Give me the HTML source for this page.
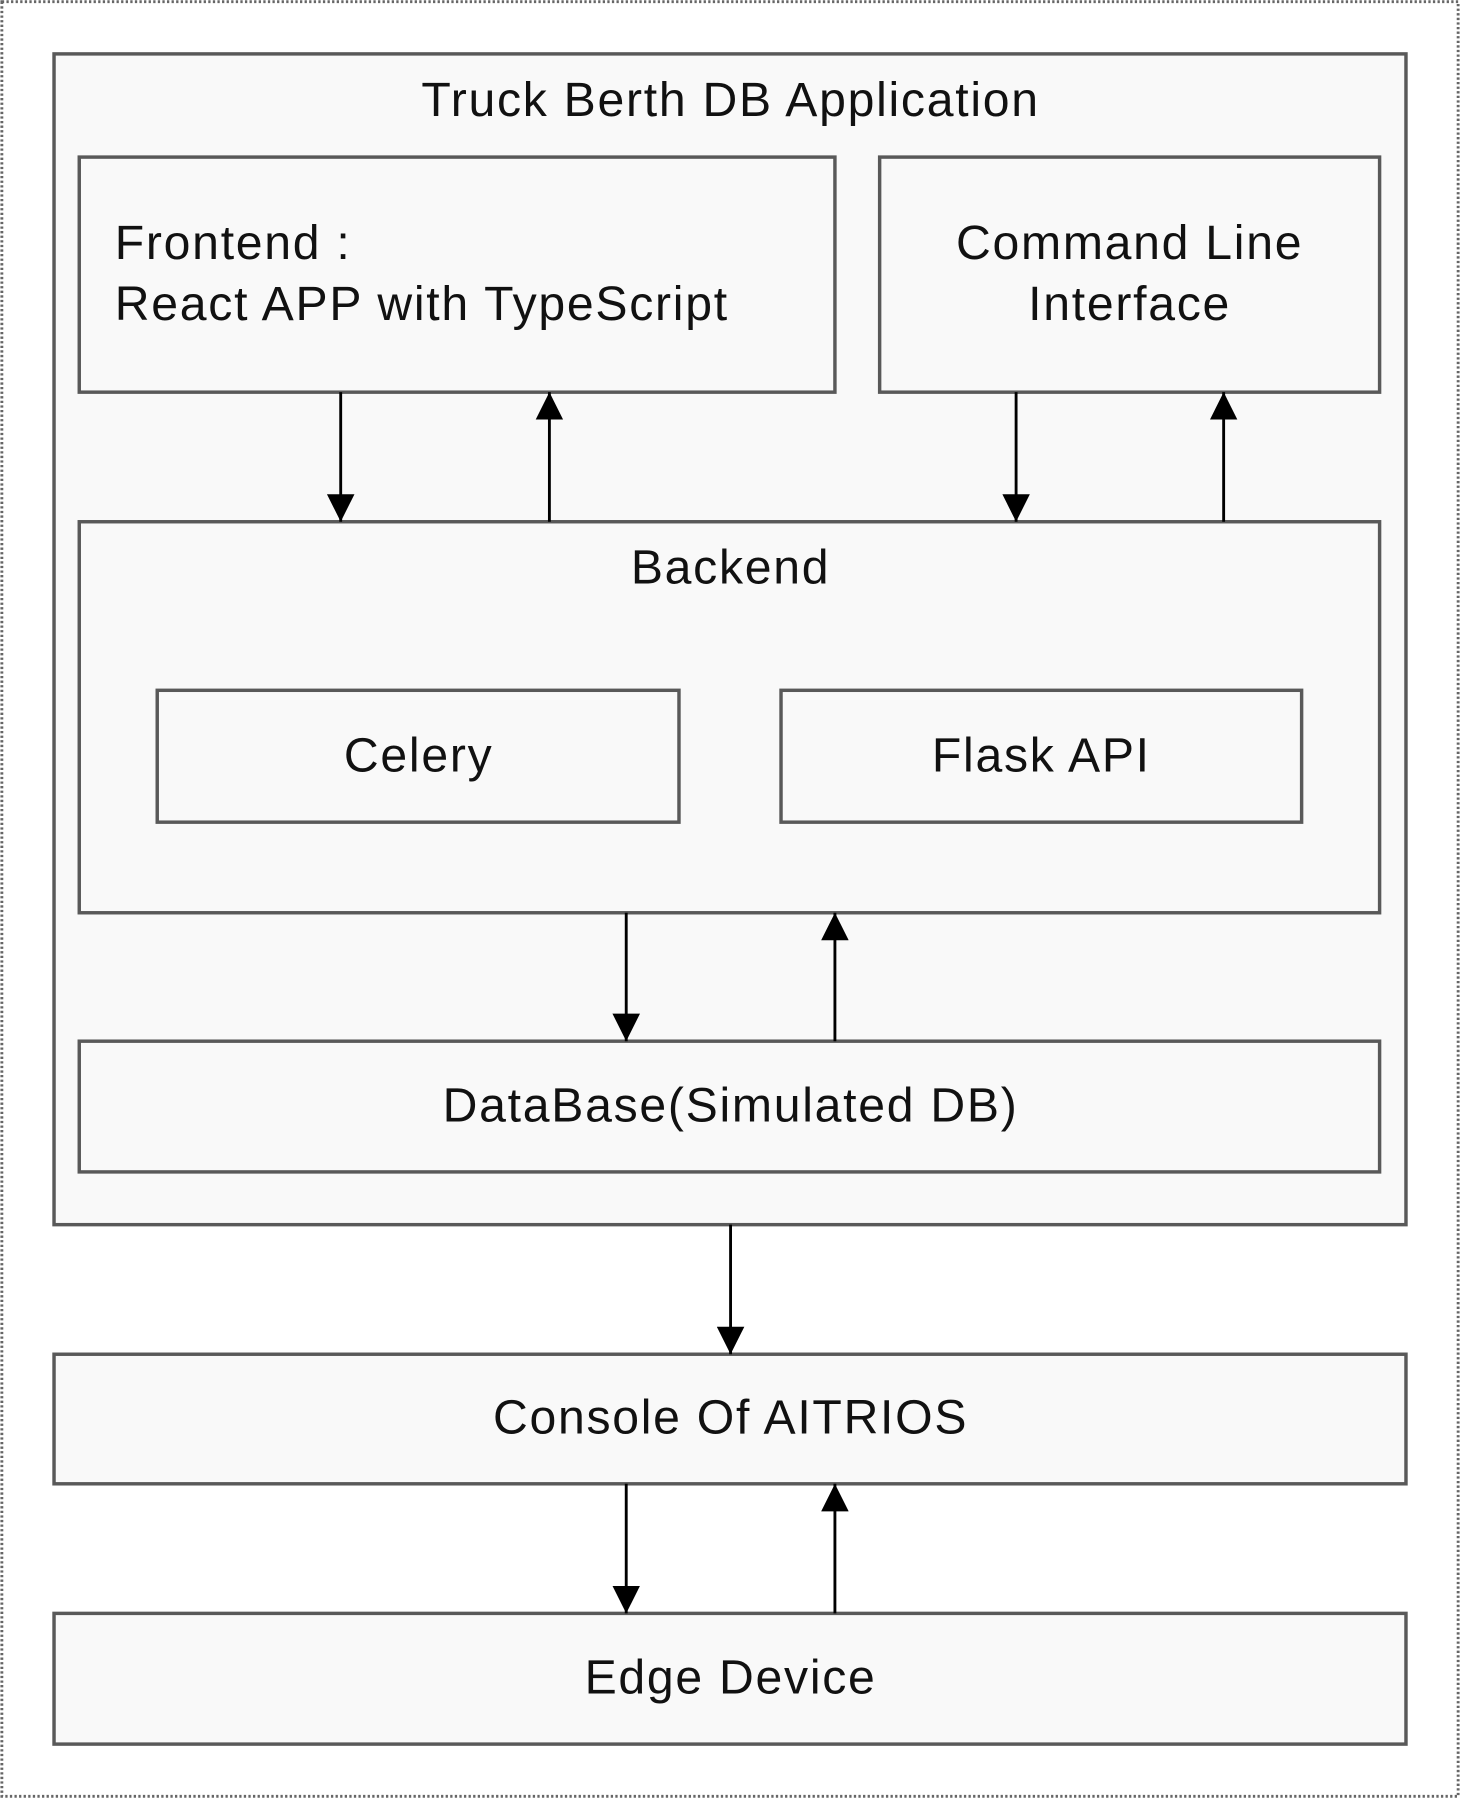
<!DOCTYPE html>
<html><head><meta charset="utf-8"><style>
html,body{margin:0;padding:0;background:#fff;}
svg{display:block;}
text{font-family:"Liberation Sans","Noto Sans CJK JP",sans-serif;font-size:42px;fill:#111;letter-spacing:1.5px;}
</style></head><body>
<svg width="1460" height="1798" viewBox="0 0 1273 1568" xmlns="http://www.w3.org/2000/svg">
<defs>
<marker id="b" viewBox="0 0 10 10" refX="10" refY="5" markerWidth="24" markerHeight="24" markerUnits="userSpaceOnUse" orient="auto"><path d="M0,0L10,5L0,10z" fill="#000"/></marker></defs>
<rect x="1.5" y="1.5" width="1270" height="1565" fill="#fff" stroke="#666" stroke-width="2.5" stroke-dasharray="2,2"/>
<g fill="#f9f9f9" stroke="#595959" stroke-width="3">
<rect x="47" y="47" width="1179" height="1021"/>
<rect x="69" y="137" width="659" height="205"/>
<rect x="767" y="137" width="436" height="205"/>
<rect x="69" y="455" width="1134" height="341"/>
<rect x="137" y="602" width="455" height="115"/>
<rect x="681" y="602" width="454" height="115"/>
<rect x="69" y="908" width="1134" height="114"/>
<rect x="47" y="1181" width="1179" height="113"/>
<rect x="47" y="1407" width="1179" height="114"/>
</g>
<g stroke="#000" stroke-width="2.5" marker-end="url(#b)">
<line x1="297" y1="342" x2="297" y2="455"/>
<line x1="479" y1="455" x2="479" y2="342"/>
<line x1="886" y1="342" x2="886" y2="455"/>
<line x1="1067" y1="455" x2="1067" y2="342"/>
<line x1="546" y1="796" x2="546" y2="908"/>
<line x1="728" y1="908" x2="728" y2="796"/>
<line x1="637" y1="1068" x2="637" y2="1181"/>
<line x1="546" y1="1294" x2="546" y2="1407"/>
<line x1="728" y1="1407" x2="728" y2="1294"/>
</g>
<g text-anchor="middle">
<text x="637" y="101">Truck Berth DB Application</text>
<text x="985" y="226">Command Line</text>
<text x="985" y="279">Interface</text>
<text x="637" y="509">Backend</text>
<text x="365" y="673">Celery</text>
<text x="908" y="673">Flask API</text>
<text x="637" y="978">DataBase(Simulated DB)</text>
<text x="637" y="1250">Console Of AITRIOS</text>
<text x="637" y="1477">Edge Device</text>
</g>
<text x="100" y="226">Frontend :</text>
<text x="100" y="279">React APP with TypeScript</text>
</svg>
</body></html>
